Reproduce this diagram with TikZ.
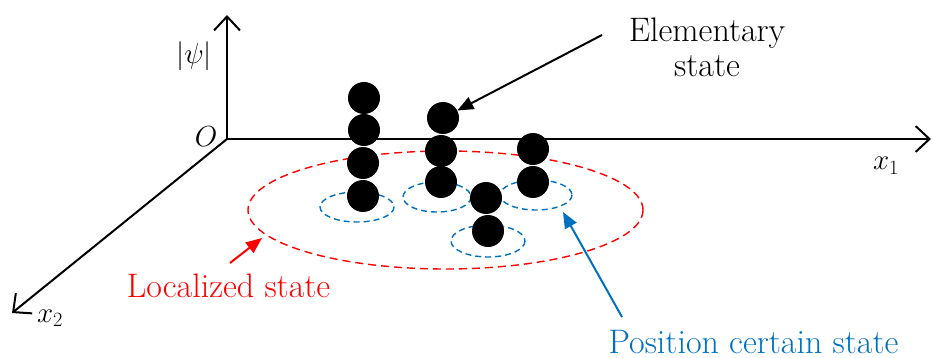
\RequirePackage{fix-cm}
\documentclass[tikz,border=0pt]{standalone}
\usepackage{fontspec}
\usetikzlibrary{arrows.meta}
\definecolor{pblue}{RGB}{0,112,192}
\begin{document}
\begin{tikzpicture}[x=1pt,y=-1pt,
  axis/.style={line width=2pt,-{Straight Barb[length=14pt,width=26pt]}},
  blob/.style={circle,fill=black,minimum size=32pt,inner sep=0pt},
  bell/.style={draw=pblue,dash pattern=on 6pt off 4pt,line width=1.4pt},
  rell/.style={draw=red,dash pattern=on 8pt off 5pt,line width=1.4pt},
  lbl/.style={font=\fontsize{34}{35}\selectfont,inner sep=0pt,anchor=base},
  mlbl/.style={font=\fontsize{29}{30}\selectfont,inner sep=0pt},
  pointer/.style={line width=2pt,-{Triangle[length=16pt,width=13pt]}}]
\useasboundingbox (0,0) rectangle (933,358);
% axes
\coordinate (O) at (227,139);
\coordinate (ytip) at (227,15);
\coordinate (x1tip) at (931,139);
\coordinate (x2tip) at (12,313);
\draw[axis] (O) -- (ytip);
\draw[axis] (O) -- (x1tip);
\draw[axis] (O) -- (x2tip);
\node[mlbl,anchor=base] (Olbl) at (206,147) {$O$};
\node[mlbl] (psi) at (194,56) {$|\psi|$};
\node[mlbl,anchor=base] (x1lbl) at (886,170) {$x_1$};
\node[mlbl,anchor=base] (x2lbl) at (50,322) {$x_2$};
% localized state
\draw[rell] (445.5,210) ellipse [x radius=197.5, y radius=59];
% position certain states
\draw[bell] (357,207) ellipse [x radius=37, y radius=15];
\draw[bell] (437,197) ellipse [x radius=34, y radius=15];
\draw[bell] (488,241) ellipse [x radius=37, y radius=16];
\draw[bell] (536,195) ellipse [x radius=36, y radius=15];
% elementary states
\node[blob] (c11) at (364,98) {};
\node[blob] (c12) at (364,130) {};
\node[blob] (c13) at (363,163) {};
\node[blob] (c14) at (363,196) {};
\node[blob] (c21) at (443,118) {};
\node[blob] (c22) at (441,151) {};
\node[blob] (c23) at (441,182) {};
\node[blob] (c31) at (486,198) {};
\node[blob] (c32) at (488,231) {};
\node[blob] (c41) at (533,149) {};
\node[blob] (c42) at (533,182) {};
% labels
\node[lbl] (elem1) at (707,42) {Elementary};
\node[lbl] (elem2) at (707,77) {state};
\node[lbl,text=red] (loc) at (228.5,297) {Localized state};
\node[lbl,text=pblue] (pos) at (753.5,353) {Position certain state};
% pointers
\coordinate (elemfrom) at (602,35);
\draw[pointer] (elemfrom) -- (c21);
\coordinate (locfrom) at (230,263);
\coordinate (locto) at (262,238);
\draw[pointer,red] (locfrom) -- (locto);
\coordinate (posfrom) at (622,317);
\coordinate (posto) at (563,212);
\draw[pointer,pblue] (posfrom) -- (posto);
\end{tikzpicture}
\end{document}
